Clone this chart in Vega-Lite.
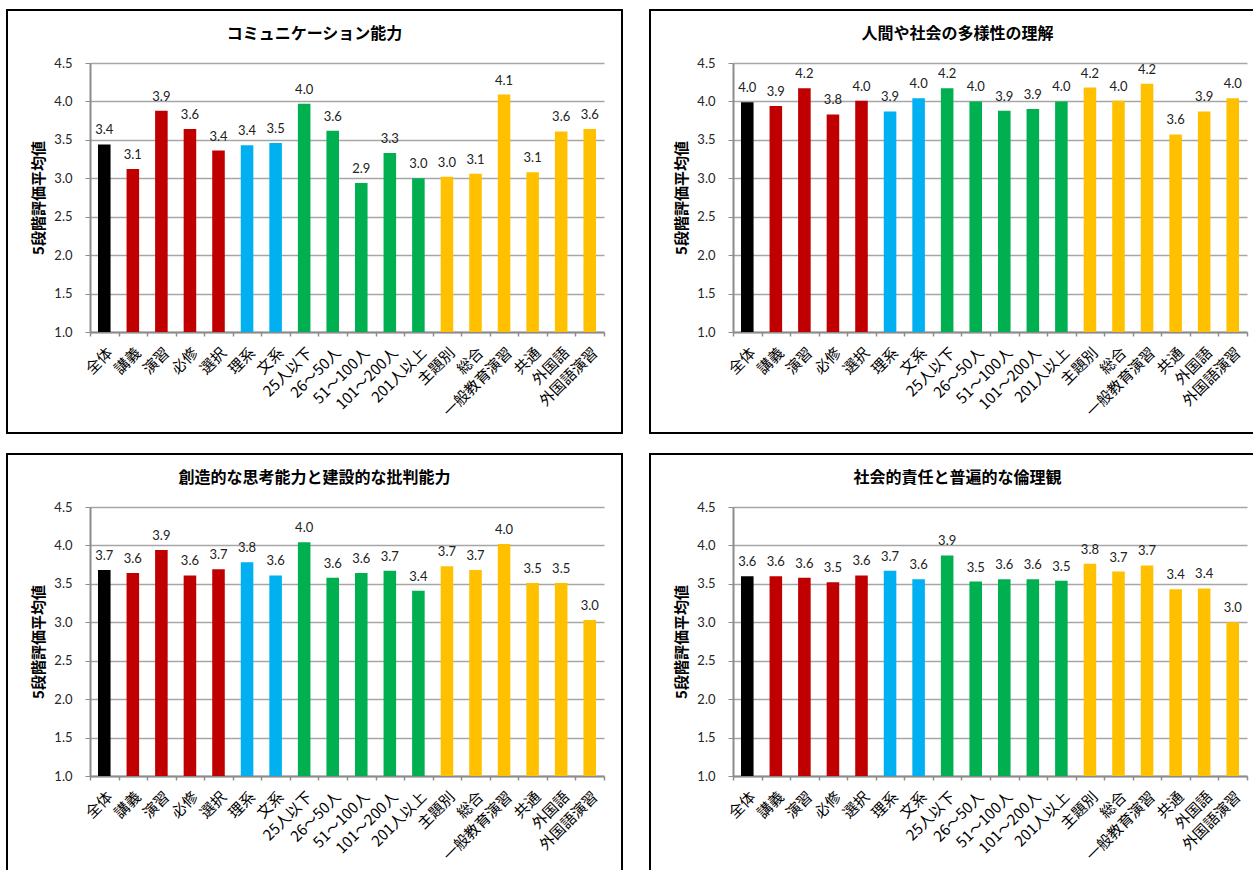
{
  "$schema": "https://vega.github.io/schema/vega-lite/v6.json",
  "background": "white",
  "padding": {"left": 6, "top": 9, "right": 0, "bottom": 0},
  "columns": 2,
  "spacing": {"row": 19, "column": 26},
  "datasets": {
    "scores": [
      {"panel": 1, "cat": "全体", "grp": "全体", "value": 3.44},
      {"panel": 1, "cat": "講義", "grp": "授業形態", "value": 3.12},
      {"panel": 1, "cat": "演習", "grp": "授業形態", "value": 3.88},
      {"panel": 1, "cat": "必修", "grp": "授業形態", "value": 3.64},
      {"panel": 1, "cat": "選択", "grp": "授業形態", "value": 3.36},
      {"panel": 1, "cat": "理系", "grp": "分野", "value": 3.43},
      {"panel": 1, "cat": "文系", "grp": "分野", "value": 3.46},
      {"panel": 1, "cat": "25人以下", "grp": "人数", "value": 3.97},
      {"panel": 1, "cat": "26～50人", "grp": "人数", "value": 3.62},
      {"panel": 1, "cat": "51～100人", "grp": "人数", "value": 2.94},
      {"panel": 1, "cat": "101～200人", "grp": "人数", "value": 3.33},
      {"panel": 1, "cat": "201人以上", "grp": "人数", "value": 3.00},
      {"panel": 1, "cat": "主題別", "grp": "科目区分", "value": 3.02},
      {"panel": 1, "cat": "総合", "grp": "科目区分", "value": 3.06},
      {"panel": 1, "cat": "一般教育演習", "grp": "科目区分", "value": 4.09},
      {"panel": 1, "cat": "共通", "grp": "科目区分", "value": 3.08},
      {"panel": 1, "cat": "外国語", "grp": "科目区分", "value": 3.61},
      {"panel": 1, "cat": "外国語演習", "grp": "科目区分", "value": 3.64},

      {"panel": 2, "cat": "全体", "grp": "全体", "value": 3.99},
      {"panel": 2, "cat": "講義", "grp": "授業形態", "value": 3.94},
      {"panel": 2, "cat": "演習", "grp": "授業形態", "value": 4.17},
      {"panel": 2, "cat": "必修", "grp": "授業形態", "value": 3.83},
      {"panel": 2, "cat": "選択", "grp": "授業形態", "value": 4.01},
      {"panel": 2, "cat": "理系", "grp": "分野", "value": 3.87},
      {"panel": 2, "cat": "文系", "grp": "分野", "value": 4.04},
      {"panel": 2, "cat": "25人以下", "grp": "人数", "value": 4.17},
      {"panel": 2, "cat": "26～50人", "grp": "人数", "value": 4.00},
      {"panel": 2, "cat": "51～100人", "grp": "人数", "value": 3.88},
      {"panel": 2, "cat": "101～200人", "grp": "人数", "value": 3.90},
      {"panel": 2, "cat": "201人以上", "grp": "人数", "value": 4.00},
      {"panel": 2, "cat": "主題別", "grp": "科目区分", "value": 4.18},
      {"panel": 2, "cat": "総合", "grp": "科目区分", "value": 4.01},
      {"panel": 2, "cat": "一般教育演習", "grp": "科目区分", "value": 4.23},
      {"panel": 2, "cat": "共通", "grp": "科目区分", "value": 3.57},
      {"panel": 2, "cat": "外国語", "grp": "科目区分", "value": 3.87},
      {"panel": 2, "cat": "外国語演習", "grp": "科目区分", "value": 4.04},

      {"panel": 3, "cat": "全体", "grp": "全体", "value": 3.68},
      {"panel": 3, "cat": "講義", "grp": "授業形態", "value": 3.64},
      {"panel": 3, "cat": "演習", "grp": "授業形態", "value": 3.94},
      {"panel": 3, "cat": "必修", "grp": "授業形態", "value": 3.61},
      {"panel": 3, "cat": "選択", "grp": "授業形態", "value": 3.69},
      {"panel": 3, "cat": "理系", "grp": "分野", "value": 3.78},
      {"panel": 3, "cat": "文系", "grp": "分野", "value": 3.61},
      {"panel": 3, "cat": "25人以下", "grp": "人数", "value": 4.04},
      {"panel": 3, "cat": "26～50人", "grp": "人数", "value": 3.58},
      {"panel": 3, "cat": "51～100人", "grp": "人数", "value": 3.64},
      {"panel": 3, "cat": "101～200人", "grp": "人数", "value": 3.67},
      {"panel": 3, "cat": "201人以上", "grp": "人数", "value": 3.41},
      {"panel": 3, "cat": "主題別", "grp": "科目区分", "value": 3.73},
      {"panel": 3, "cat": "総合", "grp": "科目区分", "value": 3.68},
      {"panel": 3, "cat": "一般教育演習", "grp": "科目区分", "value": 4.02},
      {"panel": 3, "cat": "共通", "grp": "科目区分", "value": 3.51},
      {"panel": 3, "cat": "外国語", "grp": "科目区分", "value": 3.51},
      {"panel": 3, "cat": "外国語演習", "grp": "科目区分", "value": 3.03},

      {"panel": 4, "cat": "全体", "grp": "全体", "value": 3.60},
      {"panel": 4, "cat": "講義", "grp": "授業形態", "value": 3.60},
      {"panel": 4, "cat": "演習", "grp": "授業形態", "value": 3.58},
      {"panel": 4, "cat": "必修", "grp": "授業形態", "value": 3.52},
      {"panel": 4, "cat": "選択", "grp": "授業形態", "value": 3.61},
      {"panel": 4, "cat": "理系", "grp": "分野", "value": 3.67},
      {"panel": 4, "cat": "文系", "grp": "分野", "value": 3.56},
      {"panel": 4, "cat": "25人以下", "grp": "人数", "value": 3.87},
      {"panel": 4, "cat": "26～50人", "grp": "人数", "value": 3.53},
      {"panel": 4, "cat": "51～100人", "grp": "人数", "value": 3.56},
      {"panel": 4, "cat": "101～200人", "grp": "人数", "value": 3.56},
      {"panel": 4, "cat": "201人以上", "grp": "人数", "value": 3.54},
      {"panel": 4, "cat": "主題別", "grp": "科目区分", "value": 3.76},
      {"panel": 4, "cat": "総合", "grp": "科目区分", "value": 3.66},
      {"panel": 4, "cat": "一般教育演習", "grp": "科目区分", "value": 3.74},
      {"panel": 4, "cat": "共通", "grp": "科目区分", "value": 3.43},
      {"panel": 4, "cat": "外国語", "grp": "科目区分", "value": 3.44},
      {"panel": 4, "cat": "外国語演習", "grp": "科目区分", "value": 3.00}
    ]
  },
  "concat": [
    {
      "title": {"text": "コミュニケーション能力"},
      "width": 615,
      "height": 423,
      "data": {"name": "scores"},
      "transform": [{"filter": "datum.panel === 1"}],
      "encoding": {
        "x": {"field": "cat", "type": "nominal", "sort": ["全体", "講義", "演習", "必修", "選択", "理系", "文系", "25人以下", "26～50人", "51～100人", "101～200人", "201人以上", "主題別", "総合", "一般教育演習", "共通", "外国語", "外国語演習"], "scale": {"range": [83, 597], "paddingInner": 0, "paddingOuter": 0}, "axis": {"title": null}},
        "y": {"field": "value", "type": "quantitative", "scale": {"domain": [1, 4.5], "range": [322, 53], "nice": false, "zero": false}}
      },
      "layer": [
        {"mark": {"type": "bar", "width": {"band": 0.44}}, "encoding": {"y": {"field": "value", "type": "quantitative", "axis": {"orient": "left", "offset": 0, "grid": true, "labels": false, "ticks": false, "domain": false, "title": null, "values": [1, 1.5, 2, 2.5, 3, 3.5, 4, 4.5]}}, "y2": {"datum": 1}, "color": {"field": "grp", "type": "nominal", "scale": {"domain": ["全体", "授業形態", "分野", "人数", "科目区分"], "range": ["#000000", "#C00000", "#00B0F0", "#00B050", "#FFC000"]}, "legend": null}}},
        {"mark": {"type": "text", "baseline": "alphabetic", "dy": -10}, "encoding": {"y": {"field": "value", "type": "quantitative", "axis": {"orient": "left", "grid": false, "title": "5段階評価平均値", "values": [1, 1.5, 2, 2.5, 3, 3.5, 4, 4.5], "format": ".1f"}}, "text": {"field": "value", "type": "quantitative", "format": ".1f"}}}
      ],
      "resolve": {"axis": {"y": "independent"}}
    },
    {
      "title": {"text": "人間や社会の多様性の理解"},
      "width": 615,
      "height": 423,
      "data": {"name": "scores"},
      "transform": [{"filter": "datum.panel === 2"}],
      "encoding": {
        "x": {"field": "cat", "type": "nominal", "sort": ["全体", "講義", "演習", "必修", "選択", "理系", "文系", "25人以下", "26～50人", "51～100人", "101～200人", "201人以上", "主題別", "総合", "一般教育演習", "共通", "外国語", "外国語演習"], "scale": {"range": [83, 597], "paddingInner": 0, "paddingOuter": 0}, "axis": {"title": null}},
        "y": {"field": "value", "type": "quantitative", "scale": {"domain": [1, 4.5], "range": [322, 53], "nice": false, "zero": false}}
      },
      "layer": [
        {"mark": {"type": "bar", "width": {"band": 0.44}}, "encoding": {"y": {"field": "value", "type": "quantitative", "axis": {"orient": "left", "offset": 0, "grid": true, "labels": false, "ticks": false, "domain": false, "title": null, "values": [1, 1.5, 2, 2.5, 3, 3.5, 4, 4.5]}}, "y2": {"datum": 1}, "color": {"field": "grp", "type": "nominal", "scale": {"domain": ["全体", "授業形態", "分野", "人数", "科目区分"], "range": ["#000000", "#C00000", "#00B0F0", "#00B050", "#FFC000"]}, "legend": null}}},
        {"mark": {"type": "text", "baseline": "alphabetic", "dy": -10}, "encoding": {"y": {"field": "value", "type": "quantitative", "axis": {"orient": "left", "grid": false, "title": "5段階評価平均値", "values": [1, 1.5, 2, 2.5, 3, 3.5, 4, 4.5], "format": ".1f"}}, "text": {"field": "value", "type": "quantitative", "format": ".1f"}}}
      ],
      "resolve": {"axis": {"y": "independent"}}
    },
    {
      "title": {"text": "創造的な思考能力と建設的な批判能力"},
      "width": 615,
      "height": 423,
      "data": {"name": "scores"},
      "transform": [{"filter": "datum.panel === 3"}],
      "encoding": {
        "x": {"field": "cat", "type": "nominal", "sort": ["全体", "講義", "演習", "必修", "選択", "理系", "文系", "25人以下", "26～50人", "51～100人", "101～200人", "201人以上", "主題別", "総合", "一般教育演習", "共通", "外国語", "外国語演習"], "scale": {"range": [83, 597], "paddingInner": 0, "paddingOuter": 0}, "axis": {"title": null}},
        "y": {"field": "value", "type": "quantitative", "scale": {"domain": [1, 4.5], "range": [322, 53], "nice": false, "zero": false}}
      },
      "layer": [
        {"mark": {"type": "bar", "width": {"band": 0.44}}, "encoding": {"y": {"field": "value", "type": "quantitative", "axis": {"orient": "left", "offset": 0, "grid": true, "labels": false, "ticks": false, "domain": false, "title": null, "values": [1, 1.5, 2, 2.5, 3, 3.5, 4, 4.5]}}, "y2": {"datum": 1}, "color": {"field": "grp", "type": "nominal", "scale": {"domain": ["全体", "授業形態", "分野", "人数", "科目区分"], "range": ["#000000", "#C00000", "#00B0F0", "#00B050", "#FFC000"]}, "legend": null}}},
        {"mark": {"type": "text", "baseline": "alphabetic", "dy": -10}, "encoding": {"y": {"field": "value", "type": "quantitative", "axis": {"orient": "left", "grid": false, "title": "5段階評価平均値", "values": [1, 1.5, 2, 2.5, 3, 3.5, 4, 4.5], "format": ".1f"}}, "text": {"field": "value", "type": "quantitative", "format": ".1f"}}}
      ],
      "resolve": {"axis": {"y": "independent"}}
    },
    {
      "title": {"text": "社会的責任と普遍的な倫理観"},
      "width": 615,
      "height": 423,
      "data": {"name": "scores"},
      "transform": [{"filter": "datum.panel === 4"}],
      "encoding": {
        "x": {"field": "cat", "type": "nominal", "sort": ["全体", "講義", "演習", "必修", "選択", "理系", "文系", "25人以下", "26～50人", "51～100人", "101～200人", "201人以上", "主題別", "総合", "一般教育演習", "共通", "外国語", "外国語演習"], "scale": {"range": [83, 597], "paddingInner": 0, "paddingOuter": 0}, "axis": {"title": null}},
        "y": {"field": "value", "type": "quantitative", "scale": {"domain": [1, 4.5], "range": [322, 53], "nice": false, "zero": false}}
      },
      "layer": [
        {"mark": {"type": "bar", "width": {"band": 0.44}}, "encoding": {"y": {"field": "value", "type": "quantitative", "axis": {"orient": "left", "offset": 0, "grid": true, "labels": false, "ticks": false, "domain": false, "title": null, "values": [1, 1.5, 2, 2.5, 3, 3.5, 4, 4.5]}}, "y2": {"datum": 1}, "color": {"field": "grp", "type": "nominal", "scale": {"domain": ["全体", "授業形態", "分野", "人数", "科目区分"], "range": ["#000000", "#C00000", "#00B0F0", "#00B050", "#FFC000"]}, "legend": null}}},
        {"mark": {"type": "text", "baseline": "alphabetic", "dy": -10}, "encoding": {"y": {"field": "value", "type": "quantitative", "axis": {"orient": "left", "grid": false, "title": "5段階評価平均値", "values": [1, 1.5, 2, 2.5, 3, 3.5, 4, 4.5], "format": ".1f"}}, "text": {"field": "value", "type": "quantitative", "format": ".1f"}}}
      ],
      "resolve": {"axis": {"y": "independent"}}
    }
  ],
  "config": {
    "view": {"stroke": "#000000", "strokeWidth": 2, "fill": "white"},
    "title": {"font": "Noto Sans CJK JP", "fontSize": 16, "fontWeight": "bold", "color": "#000000", "anchor": "middle", "frame": "group", "offset": -32},
    "text": {"font": "Lato", "fontSize": 13, "color": "#222222"},
    "axisY": {
      "offset": -83, "gridColor": "#a6a6a6", "gridWidth": 1.3,
      "domainColor": "#8c8c8c", "domainWidth": 2, "tickColor": "#8c8c8c", "tickSize": 5, "tickWidth": 1,
      "labelFont": "Lato", "labelFontSize": 13, "labelColor": "#262626", "labelPadding": 13,
      "titleFont": "Noto Sans CJK JP", "titleFontSize": 15, "titleFontWeight": "bold", "titleColor": "#000000",
      "titleX": -52, "titleY": 187.5, "titleAngle": -90, "titleAlign": "center", "titleBaseline": "middle"
    },
    "axisX": {
      "offset": -101, "grid": false, "tickBand": "extent",
      "domainColor": "#8c8c8c", "domainWidth": 2, "tickColor": "#8c8c8c", "tickSize": 4, "tickWidth": 1.5,
      "labelAngle": -45, "labelAlign": "right", "labelBaseline": "top", "labelPadding": 9, "labelOverlap": false,
      "labelFont": "Noto Sans CJK JP", "labelFontSize": 15, "labelColor": "#000000"
    }
  }
}
